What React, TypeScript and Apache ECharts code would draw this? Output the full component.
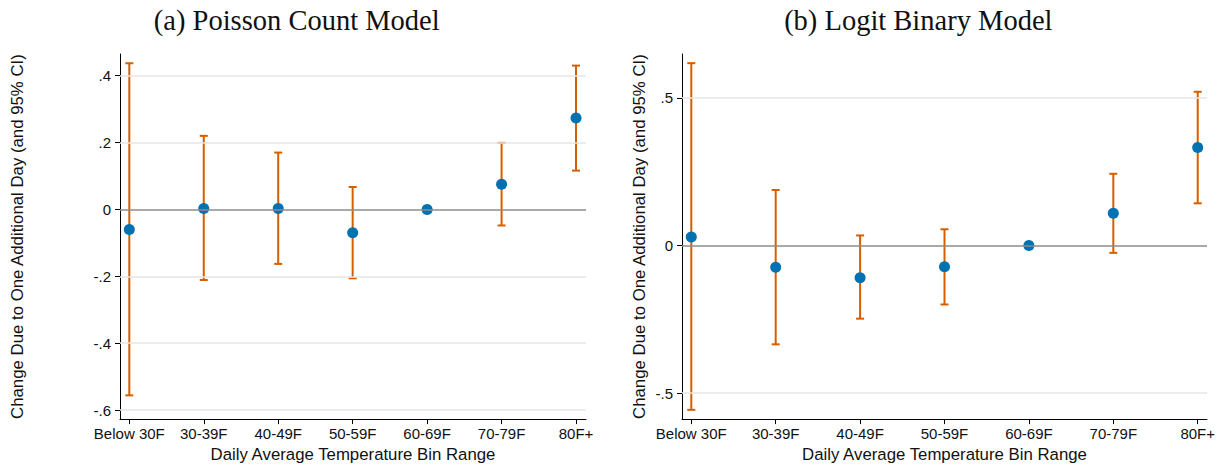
import React, { useEffect, useRef } from "react";
import * as echarts from "echarts";

const categories = ["Below 30F", "30-39F", "40-49F", "50-59F", "60-69F", "70-79F", "80F+"];
const poissonEst = [-0.06, 0.003, 0.003, -0.07, 0, 0.075, 0.273];
const poissonLo: (number | null)[] = [-0.556, -0.211, -0.163, -0.206, null, -0.048, 0.116];
const poissonHi: (number | null)[] = [0.437, 0.22, 0.17, 0.067, null, 0.199, 0.43];
const logitEst = [0.029, -0.074, -0.109, -0.072, 0, 0.109, 0.332];
const logitLo: (number | null)[] = [-0.557, -0.335, -0.248, -0.2, null, -0.025, 0.143];
const logitHi: (number | null)[] = [0.618, 0.188, 0.034, 0.055, null, 0.243, 0.521];
const poissonTicks = [-0.6, -0.4, -0.2, 0, 0.2, 0.4];
const logitTicks = [-0.5, 0, 0.5];
const xTicks = [1, 2, 3, 4, 5, 6, 7];
const titles = ["(a) Poisson Count Model", "(b) Logit Binary Model"];
const xTitle = "Daily Average Temperature Bin Range";
const yTitle = "Change Due to One Additional Day (and 95% CI)";

const BLUE = "#0072B2";
const ORANGE = "#D55E00";
const SANS = "'Liberation Sans', Arial, Helvetica, sans-serif";
const SERIF = "'Liberation Serif', 'Times New Roman', serif";

const fmtY = (v: number) => (Math.abs(v) < 1e-9 ? "0" : String(v).replace(/^(-?)0\./, "$1."));

export default function App() {
  const ref = useRef<HTMLDivElement>(null);
  useEffect(() => {
    document.body.style.margin = "0";
    const chart = echarts.init(ref.current!, undefined, { renderer: "svg" });

    const panels = [
      { est: poissonEst, lo: poissonLo, hi: poissonHi, ticks: poissonTicks, ymin: -0.627, ymax: 0.4647, xmin: 0.875, xmax: 7.134, nameGap: 94 },
      { est: logitEst, lo: logitLo, hi: logitHi, ticks: logitTicks, ymin: -0.5884, ymax: 0.649, xmin: 0.89, xmax: 7.11, nameGap: 34 },
    ];

    const grids = [
      { left: 120, top: 54, width: 466, height: 366 },
      { left: 682, top: 54, width: 525, height: 366 },
    ];

    const xAxes = panels.map((p, i) => ({
      type: "value",
      gridIndex: i,
      min: p.xmin,
      max: p.xmax,
      name: xTitle,
      nameLocation: "middle",
      nameGap: 25,
      nameTextStyle: { fontFamily: SANS, fontSize: 16.8, color: "#111" },
      axisLine: { show: true, onZero: false, lineStyle: { color: "#000", width: 1 } },
      axisTick: { show: true, length: 5, customValues: xTicks, lineStyle: { color: "#000", width: 1 } },
      axisLabel: {
        customValues: xTicks,
        margin: 7,
        fontFamily: SANS,
        fontSize: 15,
        color: "#111",
        formatter: (v: number) => categories[Math.round(v) - 1] ?? "",
      },
      splitLine: { show: false },
    }));

    const yAxes = panels.map((p, i) => ({
      type: "value",
      gridIndex: i,
      min: p.ymin,
      max: p.ymax,
      name: yTitle,
      nameLocation: "middle",
      nameRotate: 90,
      nameGap: p.nameGap,
      nameTextStyle: { fontFamily: SANS, fontSize: 16.8, color: "#111" },
      axisLine: { show: true, onZero: false, lineStyle: { color: "#000", width: 1 } },
      axisTick: { show: true, length: 5, customValues: p.ticks, lineStyle: { color: "#000", width: 1 } },
      axisLabel: {
        customValues: p.ticks,
        margin: 9,
        fontFamily: SANS,
        fontSize: 15,
        color: "#111",
        formatter: (v: number) => fmtY(v),
      },
      splitLine: { show: false },
    }));

    const series: any[] = [];
    panels.forEach((p, i) => {
      series.push({
        type: "line",
        xAxisIndex: i,
        yAxisIndex: i,
        data: [],
        silent: true,
        z: 1,
        markLine: {
          silent: true,
          symbol: ["none", "none"],
          label: { show: false },
          animation: false,
          data: p.ticks
            .filter((t) => Math.abs(t) > 1e-9)
            .map((t) => ({ yAxis: t, lineStyle: { color: "#e6e6e6", width: 1.5, type: "solid" } })),
        },
      });
      series.push({
        type: "line",
        xAxisIndex: i,
        yAxisIndex: i,
        data: [],
        silent: true,
        z: 2,
        markLine: {
          silent: true,
          symbol: ["none", "none"],
          label: { show: false },
          animation: false,
          data: [{ yAxis: 0, lineStyle: { color: "#8c8c8c", width: 1.5, type: "solid" } }],
        },
      });
      const ciData = categories
        .map((_, k) => (p.lo[k] == null || p.hi[k] == null ? null : [k + 1, p.lo[k], p.hi[k]]))
        .filter((d) => d !== null);
      series.push({
        type: "custom",
        xAxisIndex: i,
        yAxisIndex: i,
        z: 3,
        silent: true,
        encode: { x: 0, y: [1, 2] },
        data: ciData,
        renderItem: (_params: any, api: any) => {
          const x = api.value(0);
          const pLo = api.coord([x, api.value(1)]);
          const pHi = api.coord([x, api.value(2)]);
          const w = 4;
          const style = { stroke: ORANGE, lineWidth: 2 };
          return {
            type: "group",
            children: [
              { type: "line", shape: { x1: pLo[0], y1: pLo[1], x2: pHi[0], y2: pHi[1] }, style },
              { type: "line", shape: { x1: pHi[0] - w, y1: pHi[1], x2: pHi[0] + w, y2: pHi[1] }, style },
              { type: "line", shape: { x1: pLo[0] - w, y1: pLo[1], x2: pLo[0] + w, y2: pLo[1] }, style },
            ],
          };
        },
      });
      series.push({
        type: "scatter",
        xAxisIndex: i,
        yAxisIndex: i,
        z: 4,
        symbol: "circle",
        symbolSize: 11,
        itemStyle: { color: BLUE, opacity: 1 },
        data: p.est.map((v, k) => [k + 1, v]),
      });
    });

    chart.setOption({
      animation: false,
      backgroundColor: "#fff",
      grid: grids,
      xAxis: xAxes,
      yAxis: yAxes,
      series,
      graphic: [
        { type: "text", x: 296.7, y: 20, style: { text: titles[0], fontFamily: SERIF, fontSize: 28.5, fill: "#111", textAlign: "center", textVerticalAlign: "middle" } },
        { type: "text", x: 918.3, y: 20, style: { text: titles[1], fontFamily: SERIF, fontSize: 28.5, fill: "#111", textAlign: "center", textVerticalAlign: "middle" } },
      ],
    });
    return () => chart.dispose();
  }, []);
  return <div ref={ref} style={{ position: "absolute", left: 0, top: 0, width: 1225, height: 468 }} />;
}
